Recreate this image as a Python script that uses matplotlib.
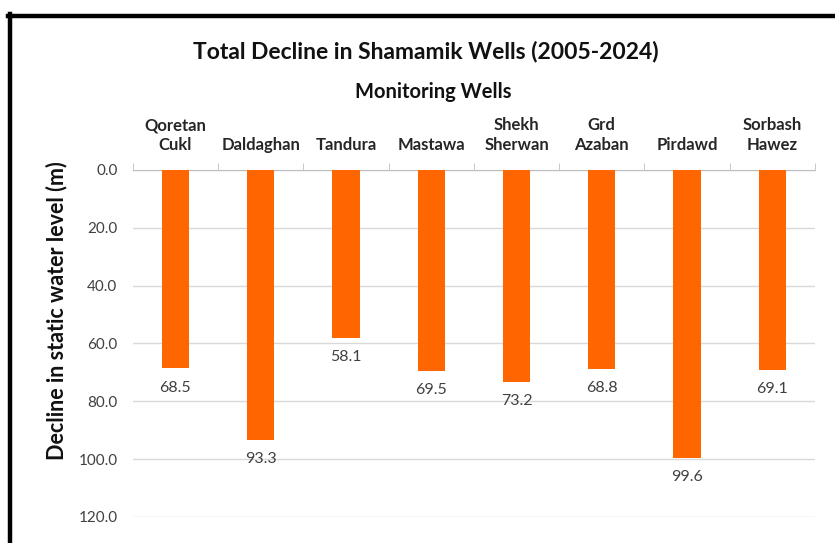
import matplotlib
matplotlib.use("Agg")
from matplotlib import pyplot as plt
from matplotlib.lines import Line2D
import numpy as np

# data
wells = ["Qoretan\nCukl", "Daldaghan", "Tandura", "Mastawa", "Shekh\nSherwan",
         "Grd\nAzaban", "Pirdawd", "Sorbash\nHawez"]
decline = [68.5, 93.3, 58.1, 69.5, 73.2, 68.8, 99.6, 69.1]
yticks = [0, 20, 40, 60, 80, 100, 120]

plt.rcParams['font.family'] = ['Lato', 'DejaVu Sans']

fig = plt.figure(figsize=(8.35, 5.43), dpi=100)
ax = fig.add_axes([0.159, 0.048, 0.817, 0.639])

x = np.arange(len(wells))
ax.bar(x, decline, width=0.32, color="#ff6600", zorder=3)

ax.set_ylim(120, 0)
ax.set_xlim(-0.5, len(wells) - 0.5)
ax.set_yticks(yticks)
ax.set_yticklabels([f"{v:.1f}" for v in yticks], fontsize=11, color="#404040")
ax.tick_params(axis='y', length=0, pad=11)
ax.grid(axis='y', color="#d9d9d9", linewidth=1, zorder=0)

# category labels on top
ax.xaxis.tick_top()
ax.set_xticks(x)
ax.set_xticklabels(wells, fontsize=12, fontweight='bold', color="#262626",
                   linespacing=1.3)
ax.tick_params(axis='x', length=0, pad=12)
ax.set_xticks(np.arange(len(wells) + 1) - 0.5, minor=True)
ax.tick_params(axis='x', which='minor', top=True, length=5, color="#bfbfbf")
ax.xaxis.set_label_position('top')
ax.set_xlabel("Monitoring Wells", fontsize=14.5, fontweight='bold', color="#111111")
ax.xaxis.label.set_va('center')
ax.xaxis.set_label_coords(0.441, 1.226)
ax.set_ylabel("Decline in static water level (m)", fontsize=15.5, fontweight='bold',
              color="#111111")
ax.yaxis.label.set_va('center')
ax.yaxis.set_label_coords(-0.112, 0.594)

for s in ['left', 'right', 'bottom']:
    ax.spines[s].set_visible(False)
ax.spines['top'].set_color("#bfbfbf")

# value labels below bar ends
for xi, v in zip(x, decline):
    ax.annotate(f"{v:.1f}", (xi, v), xytext=(0, -9), textcoords='offset points',
                ha='center', va='top', fontsize=11.5, color="#404040")

fig.text(0.510, 0.906, "Total Decline in Shamamik Wells (2005-2024)",
         ha='center', va='center', fontsize=16.5, fontweight='bold', color="#111111")

# black frame at top and left
fig.add_artist(Line2D([0.0096, 1.0], [0.971, 0.971], color='black', linewidth=3.2))
fig.add_artist(Line2D([0.0120, 0.0120], [0.0, 0.974], color='black', linewidth=3.2))

plt.savefig("out.png", dpi=100)
